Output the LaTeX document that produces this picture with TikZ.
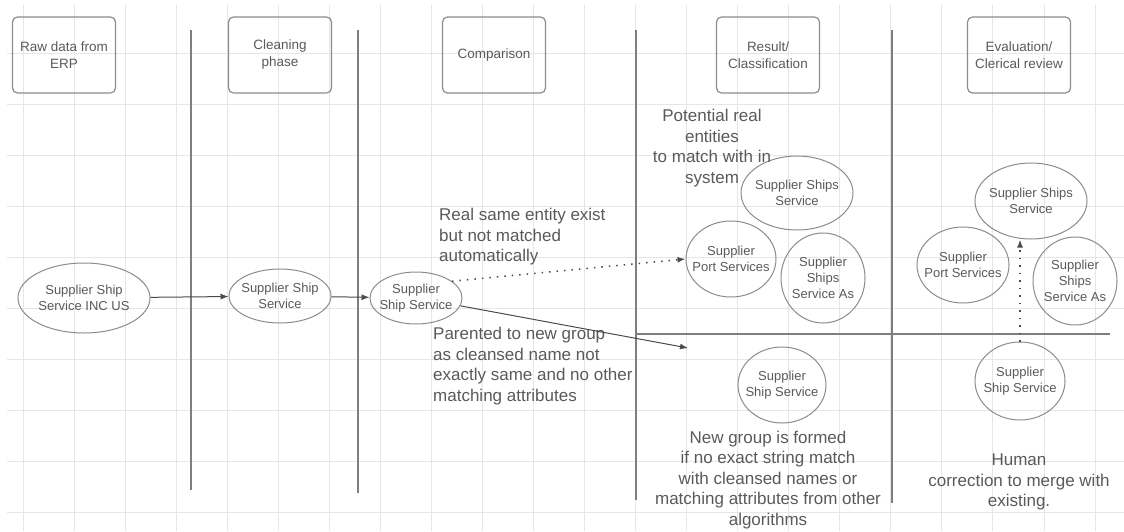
\documentclass[tikz,border=0pt]{standalone}
\usepackage{fontspec}
\setmainfont{Liberation Sans}
\usetikzlibrary{arrows.meta,positioning,shapes.geometric}
\definecolor{inkgray}{HTML}{5A5A5A}
\definecolor{edgegray}{HTML}{8C8C8C}
\definecolor{sepgray}{HTML}{7E7E7E}
\definecolor{arrowgray}{HTML}{4A4A4A}
\definecolor{gridgray}{HTML}{E6E6E6}

\begin{document}
\begin{tikzpicture}[x=1pt, y=-1pt,
  phase/.style={draw=edgegray, line width=1.2pt, rounded corners=5pt,
                minimum width=103pt, minimum height=76pt, align=center,
                text=inkgray, font=\fontsize{13.5}{17}\selectfont},
  ent/.style 2 args={ellipse, draw=edgegray, line width=1pt, inner sep=-10pt,
                minimum width=#1, minimum height=#2, align=center,
                text=inkgray, font=\fontsize{13}{16}\selectfont},
  note/.style={inner sep=0pt, text=inkgray, font=\fontsize{17}{20.5}\selectfont},
  arr/.style={-{Latex[length=8pt,width=6pt]}, draw=arrowgray, line width=1pt},
  dotarr/.style={arr, line width=1.5pt, dash pattern=on 1.5pt off 6pt},
  lanesep/.style={draw=sepgray, line width=1.3pt},
  gridline/.style={draw=gridgray, line width=1pt},
]
  \useasboundingbox[fill=white] (0,0) rectangle (1124,531);

  % background grid
  \foreach \k in {0,...,21}
    \draw[gridline] (23+51.05*\k,5) -- (23+51.05*\k,531);
  \foreach \k in {0,...,9}
    \draw[gridline] (7,53+51.1*\k) -- (1124,53+51.1*\k);

  % lane separators
  \draw[lanesep] (191,30) -- (191,490);
  \draw[lanesep] (358,30) -- (358,493);
  \draw[lanesep] (636,30) -- (636,500);
  \draw[lanesep] (892,30) -- (892,503);
  \draw[lanesep] (636,334) -- (1110,334);

  % phase headers
  \node[phase] (raw)   at (64,55)   {Raw data from\\ERP};
  \node[phase] (clean) at (280,55)  {Cleaning\\phase};
  \node[phase] (cmp)   at (494,55)  {Comparison};
  \node[phase] (res)   at (768,55)  {Result/\\Classification};
  \node[phase] (eval)  at (1019,55) {Evaluation/\\Clerical review};

  % entities
  \node[ent={132pt}{70pt}] (rawname) at (84,298)  {Supplier Ship\\Service INC US};
  \node[ent={102pt}{54pt}] (cleanname) at (280,296) {Supplier Ship\\Service};
  \node[ent={92pt}{52pt}]  (cmpname) at (416,298) {Supplier\\Ship Service};

  \node[ent={112pt}{74pt}] (resships) at (797,193) {Supplier Ships\\Service};
  \node[ent={90pt}{76pt}]  (resport)  at (731,259) {Supplier\\Port Services};
  \node[ent={84pt}{90pt}]  (resas)    at (823,278) {Supplier\\Ships\\Service As};
  \node[ent={88pt}{76pt}]  (resnew)   at (782,385) {Supplier\\Ship Service};

  \node[ent={112pt}{76pt}] (evships) at (1031,201) {Supplier Ships\\Service};
  \node[ent={92pt}{76pt}]  (evport)  at (963,265)  {Supplier\\Port Services};
  \node[ent={84pt}{88pt}]  (evas)    at (1075,281) {Supplier\\Ships\\Service As};
  \node[ent={90pt}{78pt}]  (evnew)   at (1020,381) {Supplier\\Ship Service};

  % notes
  \node[note, anchor=west, align=left] (samenote) at (439,237)
    {Real same entity exist\\but not matched\\automatically};
  \node[note, anchor=west, align=left] (parentnote) at (433,366)
    {Parented to new group\\as cleansed name not\\exactly same and no other\\matching attributes};
  \node[note, align=center] (potnote) at (712,148)
    {Potential real\\entities\\to match with in\\system};
  \node[note, align=center] (newnote) at (768,480)
    {New group is formed\\if no exact string match\\with cleansed names or\\matching attributes from other\\algorithms};
  \node[note, align=center] (humannote) at (1019,482)
    {Human\\correction to merge with\\existing.};

  % flow
  \coordinate (newgrp) at (688,348);
  \draw[arr] (rawname) -- (cleanname);
  \draw[arr] (cleanname) -- (cmpname);
  \draw[dotarr] (cmpname.25) -- (resport.west);
  \draw[arr] (cmpname.-10) -- (newgrp);
  \draw[dotarr] (evnew.north) -- (evnew.north |- evships.south);
\end{tikzpicture}
\end{document}
